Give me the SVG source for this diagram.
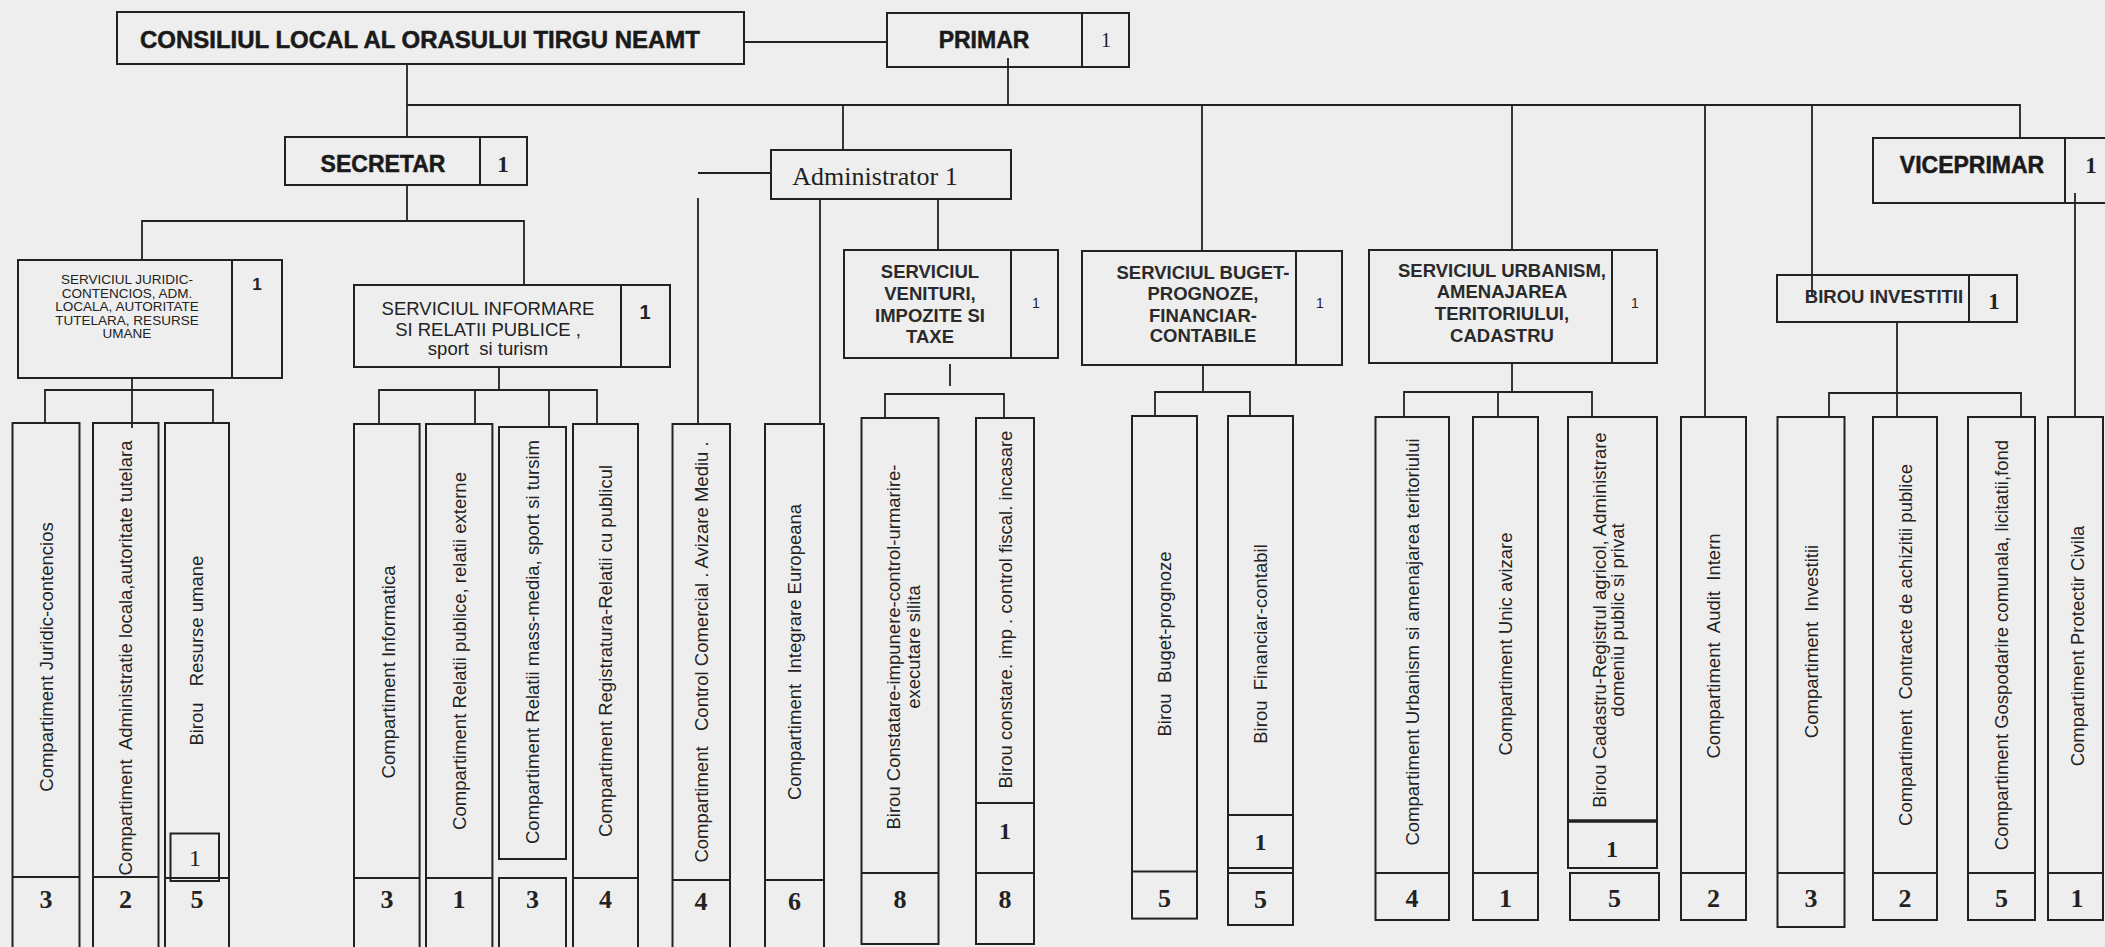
<svg xmlns="http://www.w3.org/2000/svg" width="2105" height="947" viewBox="0 0 2105 947">
<style>
.b{fill:none;stroke:#222;stroke-width:2}
.c{fill:none;stroke:#222;stroke-width:1.8}
.s{font-family:"Liberation Sans",Arial,sans-serif;fill:#222}
.h{font-family:"Liberation Sans",Arial,sans-serif;font-weight:bold;font-size:23px;fill:#1a1a1a;stroke:#1a1a1a;stroke-width:0.5;text-anchor:middle}
.m{font-family:"Liberation Sans",Arial,sans-serif;font-weight:bold;font-size:18.5px;fill:#2a2a2a;text-anchor:middle}
.vt{font-family:"Liberation Sans",Arial,sans-serif;font-size:18.5px;fill:#222;text-anchor:middle}
.n{font-family:"Liberation Serif","Times New Roman",serif;font-weight:bold;font-size:26px;fill:#222;text-anchor:middle}
.r{font-family:"Liberation Serif","Times New Roman",serif;fill:#222;text-anchor:middle}
</style>
<rect width="2105" height="947" fill="#eeeeee"/>

<g id="connectors" class="c">
<path d="M744,42H887"/>
<path d="M407,64V137"/>
<path d="M407,105H2020V138"/>
<path d="M1008,58V105"/>
<path d="M843,105V150"/>
<path d="M1202,105V251"/>
<path d="M1512,105V250"/>
<path d="M1705,105V417"/>
<path d="M1812,105V295"/>
<path d="M407,185V221"/>
<path d="M142,260V221H524V285"/>
<path d="M132,378V428"/>
<path d="M45,423V390H213V423"/>
<path d="M499,367V390"/>
<path d="M379,424V390H597V424"/>
<path d="M475,390V424"/>
<path d="M549,390V427"/>
<path d="M771,173H698"/>
<path d="M698,198V424"/>
<path d="M820,199V424"/>
<path d="M938,199V250"/>
<path d="M950,364V386"/>
<path d="M885,418V394H1004V418"/>
<path d="M1203,365V392"/>
<path d="M1155,416V392H1250V416"/>
<path d="M1512,363V392"/>
<path d="M1404,417V392H1592V417"/>
<path d="M1498,392V417"/>
<path d="M1897,322V417"/>
<path d="M1829,417V393H2021V417"/>
<path d="M2075,193V417"/>
</g>

<g id="consiliul">
<rect class="b" x="117" y="12" width="627" height="52"/>
<text class="h" x="420" y="48" font-size="21" textLength="560" lengthAdjust="spacingAndGlyphs">CONSILIUL LOCAL AL ORASULUI TIRGU NEAMT</text>
</g>
<g id="primar">
<rect class="b" x="887" y="13" width="242" height="54"/>
<line class="b" x1="1082" y1="13" x2="1082" y2="67"/>
<text class="h" x="984" y="48">PRIMAR</text>
<text class="r" x="1106" y="47" font-size="20">1</text>
</g>
<g id="secretar">
<rect class="b" x="285" y="137" width="242" height="48"/>
<line class="b" x1="480" y1="137" x2="480" y2="185"/>
<text class="h" x="383" y="172">SECRETAR</text>
<text class="r" x="503" y="172" font-size="23" font-weight="bold">1</text>
</g>
<g id="administrator">
<rect class="b" x="771" y="150" width="240" height="49"/>
<text class="r" x="875" y="185" font-size="26">Administrator 1</text>
</g>
<g id="viceprimar">
<rect class="b" x="1873" y="138" width="240" height="65"/>
<line class="b" x1="2065" y1="138" x2="2065" y2="203"/>
<text class="h" x="1972" y="173">VICEPRIMAR</text>
<text class="r" x="2091" y="173" font-size="23" font-weight="bold">1</text>
</g>

<g id="serv-juridic">
<rect class="b" x="18" y="260" width="264" height="118"/>
<line class="b" x1="232" y1="260" x2="232" y2="378"/>
<text class="s" font-size="13.5" text-anchor="middle" fill="#3a3a3a"><tspan x="127" y="284">SERVICIUL JURIDIC-</tspan><tspan x="127" y="297.5">CONTENCIOS, ADM.</tspan><tspan x="127" y="311">LOCALA, AUTORITATE</tspan><tspan x="127" y="324.5">TUTELARA, RESURSE</tspan><tspan x="127" y="338">UMANE</tspan></text>
<text class="s" x="257" y="290" font-size="17" font-weight="bold" text-anchor="middle">1</text>
</g>
<g id="serv-informare">
<rect class="b" x="354" y="285" width="316" height="82"/>
<line class="b" x1="621" y1="285" x2="621" y2="367"/>
<text class="s" font-size="18.5" text-anchor="middle"><tspan x="488" y="315">SERVICIUL INFORMARE</tspan><tspan x="488" y="336">SI RELATII PUBLICE ,</tspan><tspan x="488" y="355" xml:space="preserve">sport  si turism</tspan></text>
<text class="s" x="645" y="319" font-size="20" font-weight="bold" text-anchor="middle">1</text>
</g>
<g id="serv-venituri">
<rect class="b" x="844" y="250" width="214" height="108"/>
<line class="b" x1="1011" y1="250" x2="1011" y2="358"/>
<text class="m"><tspan x="930" y="278">SERVICIUL</tspan><tspan x="930" y="300">VENITURI,</tspan><tspan x="930" y="321.5">IMPOZITE SI</tspan><tspan x="930" y="343">TAXE</tspan></text>
<text class="s" x="1036" y="308" font-size="14" text-anchor="middle">1</text>
</g>
<g id="serv-buget">
<rect class="b" x="1082" y="251" width="260" height="114"/>
<line class="b" x1="1296" y1="251" x2="1296" y2="365"/>
<text class="m"><tspan x="1203" y="278.5">SERVICIUL BUGET-</tspan><tspan x="1203" y="300">PROGNOZE,</tspan><tspan x="1203" y="321.5">FINANCIAR-</tspan><tspan x="1203" y="342">CONTABILE</tspan></text>
<text class="s" x="1320" y="308" font-size="14" text-anchor="middle">1</text>
</g>
<g id="serv-urbanism">
<rect class="b" x="1369" y="250" width="288" height="113"/>
<line class="b" x1="1612" y1="250" x2="1612" y2="363"/>
<text class="m"><tspan x="1502" y="276.5">SERVICIUL URBANISM,</tspan><tspan x="1502" y="298">AMENAJAREA</tspan><tspan x="1502" y="320">TERITORIULUI,</tspan><tspan x="1502" y="341.5">CADASTRU</tspan></text>
<text class="s" x="1635" y="308" font-size="14" text-anchor="middle">1</text>
</g>
<g id="birou-investitii">
<rect class="b" x="1777" y="275" width="240" height="47"/>
<line class="b" x1="1969" y1="275" x2="1969" y2="322"/>
<text class="m" x="1884" y="303" font-size="17.5">BIROU INVESTITII</text>
<text class="r" x="1994" y="309" font-size="23" font-weight="bold">1</text>
</g>

<g id="c-juridic">
<rect class="b" x="12.5" y="423" width="67" height="530"/>
<line class="b" x1="12.5" y1="877" x2="79.5" y2="877"/>
<text class="vt" transform="translate(46,657) rotate(-90)" y="6.5">Compartiment Juridic-contencios</text>
<text class="n" x="46" y="908">3</text>
</g>
<g id="c-administratie">
<rect class="b" x="93" y="423" width="65.5" height="530"/>
<line class="b" x1="93" y1="877" x2="158.5" y2="877"/>
<text class="vt" transform="translate(125.5,658) rotate(-90)" y="6.5" xml:space="preserve">Compartiment  Administratie locala,autoritate tutelara</text>
<text class="n" x="125.5" y="908">2</text>
</g>
<g id="c-resurse">
<rect class="b" x="165" y="423" width="64" height="530"/>
<line class="b" x1="165" y1="878" x2="229" y2="878"/>
<rect class="b" x="170.5" y="833.5" width="48.5" height="47.5"/>
<text class="r" x="195" y="866" font-size="24">1</text>
<text class="vt" transform="translate(197,724) rotate(-90)" y="6" font-size="16.5">Birou</text>
<text class="vt" transform="translate(197,621) rotate(-90)" y="6" font-size="16.5">Resurse umane</text>
<text class="n" x="197" y="908">5</text>
</g>
<g id="c-informatica">
<rect class="b" x="354" y="424" width="65.6" height="530"/>
<line class="b" x1="354" y1="878" x2="419.6" y2="878"/>
<text class="vt" transform="translate(387,672) rotate(-90)" y="7.5" font-size="22">Compartiment Informatica</text>
<text class="n" x="387" y="908">3</text>
</g>
<g id="c-relatii-publice">
<rect class="b" x="426" y="424" width="66.4" height="530"/>
<line class="b" x1="426" y1="878" x2="492.4" y2="878"/>
<text class="vt" transform="translate(459,651) rotate(-90)" y="6.5">Compartiment Relatii publice, relatii externe</text>
<text class="n" x="459" y="908">1</text>
</g>
<g id="c-mass-media">
<rect class="b" x="499" y="427" width="67" height="432"/>
<rect class="b" x="499" y="878" width="67" height="75"/>
<text class="vt" transform="translate(532.5,642) rotate(-90)" y="6.5">Compartiment Relatii mass-media, sport si tursim</text>
<text class="n" x="532.5" y="908">3</text>
</g>
<g id="c-registratura">
<rect class="b" x="573" y="424" width="65" height="530"/>
<line class="b" x1="573" y1="878" x2="638" y2="878"/>
<text class="vt" transform="translate(605.5,651) rotate(-90)" y="6.5">Compartiment Registratura-Relatii cu publicul</text>
<text class="n" x="605.5" y="908">4</text>
</g>
<g id="c-control">
<rect class="b" x="672.5" y="424" width="57.5" height="530"/>
<line class="b" x1="672.5" y1="880" x2="730" y2="880"/>
<text class="vt" transform="translate(701,652) rotate(-90)" y="6.5" xml:space="preserve">Compartiment   Control Comercial . Avizare Mediu .</text>
<text class="n" x="701" y="910">4</text>
</g>
<g id="c-integrare">
<rect class="b" x="765" y="424" width="59" height="530"/>
<line class="b" x1="765" y1="880" x2="824" y2="880"/>
<text class="vt" transform="translate(794.5,652) rotate(-90)" y="6.5" xml:space="preserve">Compartiment  Integrare Europeana</text>
<text class="n" x="794.5" y="910">6</text>
</g>
<g id="b-constatare">
<rect class="b" x="861.5" y="418" width="77" height="526"/>
<line class="b" x1="861.5" y1="873" x2="938.5" y2="873"/>
<text class="vt" transform="translate(900,647) rotate(-90)"><tspan x="0" y="0">Birou Constatare-impunere-control-urmarire-</tspan><tspan x="0" y="20">executare silita</tspan></text>
<text class="n" x="900" y="908">8</text>
</g>
<g id="b-constare">
<rect class="b" x="976" y="418" width="58" height="526"/>
<line class="b" x1="976" y1="803" x2="1034" y2="803"/>
<line class="b" x1="976" y1="873" x2="1034" y2="873"/>
<text class="vt" transform="translate(1005,609.5) rotate(-90)" y="6.5">Birou constare. imp . control fiscal. incasare</text>
<text class="r" x="1005" y="839" font-size="24" font-weight="bold">1</text>
<text class="n" x="1005" y="908">8</text>
</g>
<g id="b-buget">
<rect class="b" x="1132" y="416" width="65" height="502.6"/>
<line class="b" x1="1132" y1="871.5" x2="1197" y2="871.5"/>
<text class="vt" transform="translate(1164.5,644) rotate(-90)" y="6.5" xml:space="preserve">Birou  Buget-prognoze</text>
<text class="n" x="1164.5" y="907">5</text>
</g>
<g id="b-financiar">
<rect class="b" x="1228" y="416" width="65" height="509"/>
<line class="b" x1="1228" y1="815" x2="1293" y2="815"/>
<line class="b" x1="1228" y1="868" x2="1293" y2="868"/>
<line class="b" x1="1228" y1="873" x2="1293" y2="873"/>
<text class="vt" transform="translate(1260.5,644) rotate(-90)" y="6.5" xml:space="preserve">Birou  Financiar-contabil</text>
<text class="r" x="1260.5" y="850" font-size="24" font-weight="bold">1</text>
<text class="n" x="1260.5" y="908">5</text>
</g>
<g id="c-urbanism">
<rect class="b" x="1375.5" y="417" width="73.5" height="503"/>
<line class="b" x1="1375.5" y1="873" x2="1449" y2="873"/>
<text class="vt" transform="translate(1412,642) rotate(-90)" y="6.5">Compartiment Urbanism si amenajarea teritoriului</text>
<text class="n" x="1412" y="907">4</text>
</g>
<g id="c-unic">
<rect class="b" x="1473" y="417" width="65" height="503"/>
<line class="b" x1="1473" y1="873" x2="1538" y2="873"/>
<text class="vt" transform="translate(1505.5,644) rotate(-90)" y="6.5">Compartiment Unic avizare</text>
<text class="n" x="1505.5" y="907">1</text>
</g>
<g id="b-cadastru">
<rect class="b" x="1568" y="417" width="89" height="451"/>
<line x1="1568" y1="821" x2="1657" y2="821" stroke="#222" stroke-width="3.5"/>
<rect class="b" x="1570" y="873" width="89" height="47"/>
<text class="vt" transform="translate(1612,620) rotate(-90)" font-size="15" fill="#333"><tspan x="0" y="-6">Birou Cadastru-Registrul agricol, Administrare</tspan><tspan x="0" y="12">domeniu public si privat</tspan></text>
<text class="r" x="1612" y="857" font-size="24" font-weight="bold">1</text>
<text class="n" x="1614.5" y="907">5</text>
</g>
<g id="c-audit">
<rect class="b" x="1681" y="417" width="65" height="503"/>
<line class="b" x1="1681" y1="873" x2="1746" y2="873"/>
<text class="vt" transform="translate(1713.5,646) rotate(-90)" y="6.5" xml:space="preserve">Compartiment  Audit  Intern</text>
<text class="n" x="1713.5" y="907">2</text>
</g>
<g id="c-investitii">
<rect class="b" x="1777.5" y="417" width="67" height="510"/>
<line class="b" x1="1777.5" y1="873" x2="1844.5" y2="873"/>
<text class="vt" transform="translate(1811,641.5) rotate(-90)" y="6.5" xml:space="preserve">Compartiment  Investitii</text>
<text class="n" x="1811" y="907">3</text>
</g>
<g id="c-contracte">
<rect class="b" x="1873" y="417" width="64" height="503"/>
<line class="b" x1="1873" y1="873" x2="1937" y2="873"/>
<text class="vt" transform="translate(1905,645) rotate(-90)" y="6.5" xml:space="preserve">Compartiment  Contracte de achizitii publice</text>
<text class="n" x="1905" y="907">2</text>
</g>
<g id="c-gospodarire">
<rect class="b" x="1968" y="417" width="67" height="503"/>
<line class="b" x1="1968" y1="873" x2="2035" y2="873"/>
<text class="vt" transform="translate(2001.5,645) rotate(-90)" y="6.5">Compartiment Gospodarire comunala, licitatii,fond</text>
<text class="n" x="2001.5" y="907">5</text>
</g>
<g id="c-protectie">
<rect class="b" x="2048" y="417" width="55" height="503"/>
<line class="b" x1="2048" y1="873" x2="2103" y2="873"/>
<text class="vt" transform="translate(2077,646) rotate(-90)" y="6.5">Compartiment Protectir Civila</text>
<text class="n" x="2077" y="907">1</text>
</g>
</svg>
